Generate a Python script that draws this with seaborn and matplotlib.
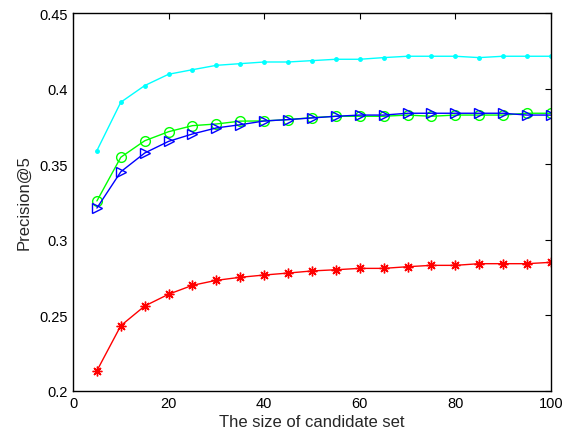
import numpy as np
import pandas as pd
import matplotlib
matplotlib.use('Agg')
import matplotlib.pyplot as plt
import seaborn as sns

# candidate set sizes
sizes = list(range(5, 101, 5))

# precision@5 for each method
cyan_vals = [0.359, 0.391, 0.402, 0.4095, 0.4125, 0.4154, 0.4165, 0.4176, 0.4176, 0.4185,
             0.4194, 0.4194, 0.4205, 0.4214, 0.4214, 0.4214, 0.4205, 0.4214, 0.4214, 0.4214]
green_vals = [0.3257, 0.3546, 0.3655, 0.3715, 0.3755, 0.3766, 0.3785, 0.3786, 0.3795, 0.3808,
              0.3817, 0.3817, 0.3817, 0.3825, 0.3817, 0.3825, 0.3825, 0.3825, 0.3837, 0.3837]
blue_vals = [0.321, 0.345, 0.3574, 0.3651, 0.370, 0.374, 0.3761, 0.3786, 0.3795, 0.3806,
             0.3817, 0.3825, 0.3825, 0.3837, 0.3837, 0.3837, 0.3837, 0.3837, 0.3825, 0.3825]
red_vals = [0.2134, 0.2432, 0.2562, 0.264, 0.2699, 0.2732, 0.2752, 0.2767, 0.278, 0.2794,
            0.2802, 0.2811, 0.2811, 0.2822, 0.2831, 0.2831, 0.2842, 0.2842, 0.2842, 0.2851]

sns.set_style('white')
plt.rcParams['font.family'] = ['Liberation Sans', 'DejaVu Sans']

fig = plt.figure(figsize=(5.75, 4.31), dpi=100)
ax = fig.add_axes([0.127, 0.0905, 0.831, 0.877])

# (values, colour, marker, marker size, filled)
series = [
    (cyan_vals, '#00ffff', 'o', 2.5, True),
    (green_vals, '#00ff00', 'o', 7, False),
    (blue_vals, '#0000ff', '>', 7.5, False),
    (red_vals, '#ff0000', (8, 2, 0), 7, False),
]
for vals, col, mk, ms, filled in series:
    sns.lineplot(x=sizes, y=vals, ax=ax, color=col, linewidth=1,
                 marker=mk, markersize=ms, markeredgecolor=col,
                 markerfacecolor=col if filled else 'none',
                 markeredgewidth=1)

ax.set_xlim(0, 100)
ax.set_ylim(0.2, 0.45)
ax.set_xticks([0, 20, 40, 60, 80, 100])
ax.set_yticks([0.2, 0.25, 0.3, 0.35, 0.4, 0.45])
ax.set_yticklabels(['0.2', '0.25', '0.3', '0.35', '0.4', '0.45'])
ax.tick_params(direction='in', top=True, right=True, length=4, width=0.8,
               labelsize=10.5, colors='black')
for s in ax.spines.values():
    s.set_color('black')
    s.set_linewidth(1)
ax.set_xlabel('The size of candidate set', fontsize=12, labelpad=3)
ax.set_ylabel('Precision@5', fontsize=12, labelpad=6)

fig.savefig('out.png', dpi=100)
